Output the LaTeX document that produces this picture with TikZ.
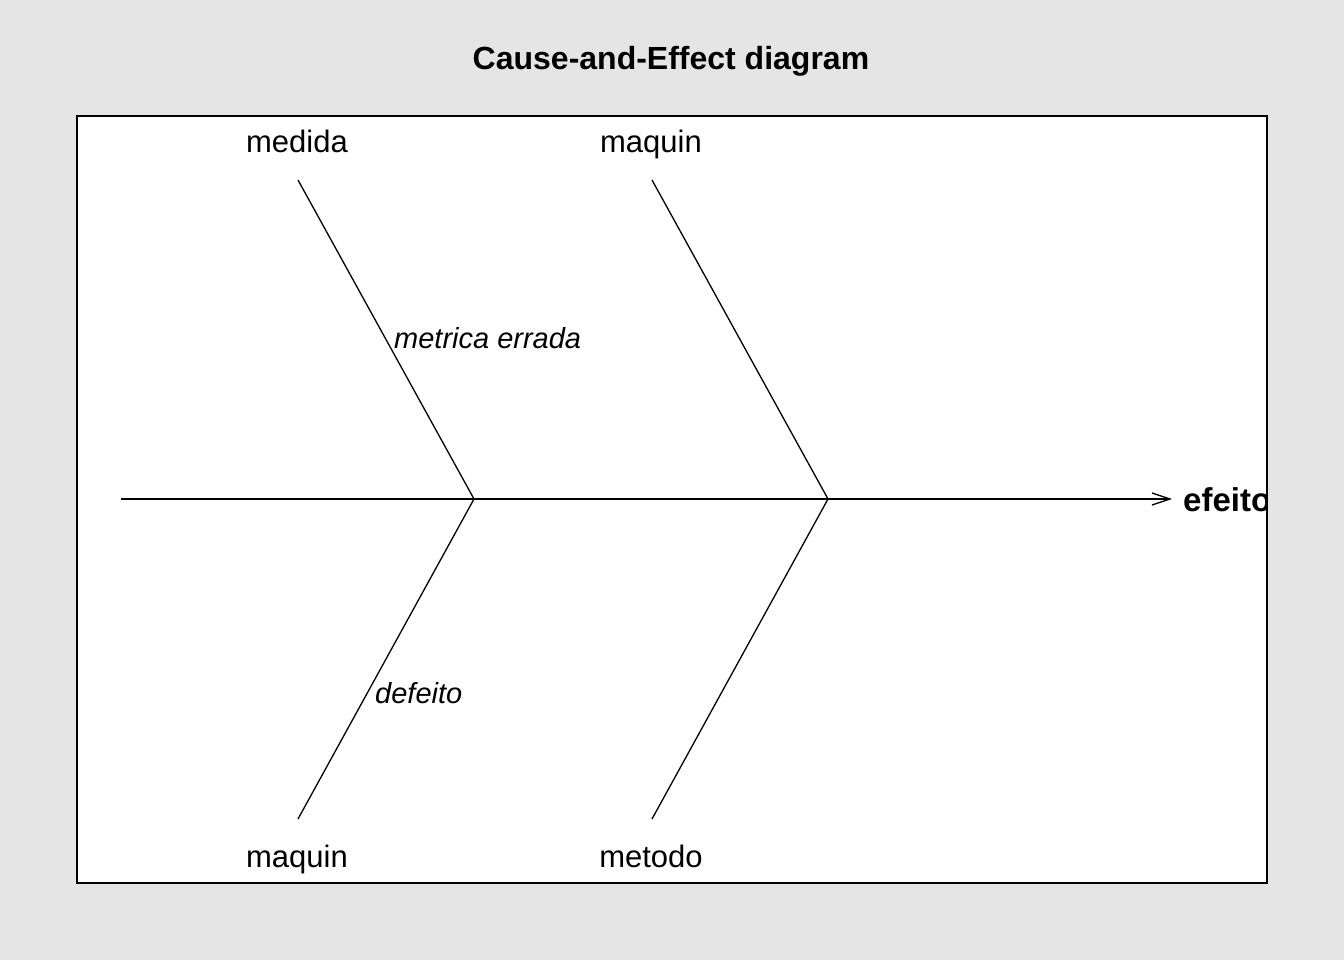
\documentclass[tikz,border=0pt]{standalone}
\usepackage{fontspec}
\setmainfont{Liberation Sans}
\usetikzlibrary{arrows.meta}
\begin{document}
\begin{tikzpicture}[x=1pt,y=-1pt,
  bone/.style={draw=black,line width=1.3pt},
  catlabel/.style={inner sep=0pt,anchor=base,font=\fontsize{31}{36}\selectfont},
  sublabel/.style={inner sep=0pt,anchor=west,font=\fontsize{29}{34}\selectfont\itshape},
  titlelabel/.style={inner sep=0pt,anchor=base,font=\fontsize{32}{38}\selectfont\bfseries}]
\fill[fill={rgb,255:red,229;green,229;blue,229}] (0,0) rectangle (1344,960);
\useasboundingbox (0,0) rectangle (1344,960);
\fill[white] (77,116) rectangle (1267,883);
\node[titlelabel] (title) at (671,70) {Cause-and-Effect diagram};
% coordinates
\coordinate (tail) at (121,499);
\coordinate (head) at (1172,499);
\coordinate (j1) at (474,499);
\coordinate (j2) at (828,499);
\coordinate (u1) at (298,180);
\coordinate (l1) at (298,819);
\coordinate (u2) at (652,180);
\coordinate (l2) at (652,819);
\draw[bone,-{Straight Barb[length=18pt,width=12pt,line width=1.3pt]}] (tail) -- (head);
\draw[bone] (u1) -- (j1) -- (l1);
\draw[bone] (u2) -- (j2) -- (l2);
\node[catlabel] (medida) at (297,153) {medida};
\node[catlabel] (maquinA) at (651,153) {maquin};
\node[catlabel] (maquinB) at (297,867) {maquin};
\node[catlabel] (metodo) at (651,867) {metodo};
\node[sublabel] (metrica) at (394,338) {metrica errada};
\node[sublabel] (defeito) at (375,693) {defeito};
\begin{scope}
\clip (77,116) rectangle (1267,883);
\node[inner sep=0pt,anchor=base west,font=\fontsize{33}{38}\selectfont\bfseries] (efeito) at (1183,511) {efeito};
\end{scope}
\draw[black,line width=1.3pt] (77,116) rectangle (1267,883);
\end{tikzpicture}
\end{document}
